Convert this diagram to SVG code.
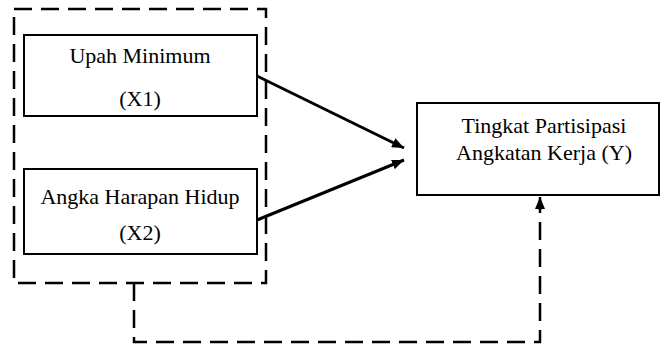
<svg xmlns="http://www.w3.org/2000/svg" width="661" height="347" viewBox="0 0 661 347">
<style>
.box{fill:#fff;stroke:#000;stroke-width:2}
.dash{fill:none;stroke:#000;stroke-width:2.5;stroke-dasharray:18 9}
.arrow{fill:none;stroke:#000;stroke-width:3}
.t{font-family:'Liberation Serif','Times New Roman',serif;font-size:22px;fill:#000;text-anchor:middle}
</style>
<defs>
<marker id="ah" viewBox="0 0 12 10" refX="12" refY="5" markerWidth="12" markerHeight="10" markerUnits="userSpaceOnUse" orient="auto">
<path d="M0,0 L12,5 L0,10 Z" fill="#000"/>
</marker>
</defs>
<rect width="661" height="347" fill="#fff"/>
<g id="group-x">
<rect class="dash" x="14" y="9" width="252" height="274"/>
</g>
<g id="x1">
<rect class="box" x="24" y="35" width="233" height="81"/>
<text class="t" x="140" y="63">Upah Minimum</text>
<text class="t" x="140" y="106">(X1)</text>
</g>
<g id="x2">
<rect class="box" x="24" y="169" width="233" height="85"/>
<text class="t" x="140" y="204">Angka Harapan Hidup</text>
<text class="t" x="140" y="240">(X2)</text>
</g>
<g id="y">
<rect class="box" x="417" y="103" width="242" height="92"/>
<text class="t" x="544" y="133">Tingkat Partisipasi</text>
<text class="t" x="544" y="160">Angkatan Kerja (Y)</text>
</g>
<g id="connectors">
<line class="arrow" x1="257" y1="76" x2="404" y2="148" marker-end="url(#ah)"/>
<line class="arrow" x1="257" y1="220" x2="404" y2="160" marker-end="url(#ah)"/>
<path class="dash" d="M134,283 V342 H540 V208"/>
<line x1="540" y1="210" x2="540" y2="197" stroke="#000" stroke-width="2.5" marker-end="url(#ah)"/>
</g>
</svg>
